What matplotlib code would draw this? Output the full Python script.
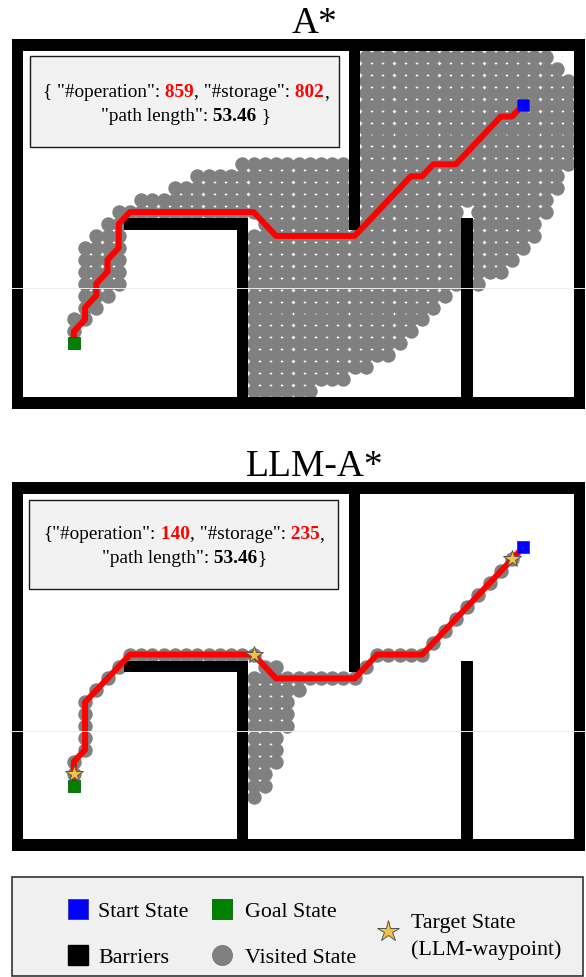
import matplotlib
matplotlib.use('Agg')
import matplotlib.pyplot as plt
from matplotlib.patches import Rectangle

W, H = 586, 978
SERIF = 'Liberation Serif'

# grid world 51 x 31, walls as (x0, x1, y0, y1) inclusive
walls = [(0, 50, 0, 0), (0, 50, 30, 30), (0, 0, 0, 30), (50, 50, 0, 30),
         (10, 20, 15, 15), (20, 20, 0, 14), (30, 30, 15, 29), (40, 40, 0, 15)]
start = (45, 25)
goal = (5, 5)

# A* result: path corners and visited cells per row (y, x_from, x_to)
astar_path = [(45, 25), (44, 24), (43, 24), (39, 20), (37, 20), (36, 19), (35, 19),
              (30, 14), (23, 14), (21, 16), (10, 16), (9, 15), (9, 13), (8, 12),
              (8, 11), (7, 10), (7, 9), (6, 8), (6, 7), (5, 6), (5, 5)]
astar_visited = [(29, 31, 47), (28, 31, 48), (27, 31, 49), (26, 31, 49), (25, 31, 49),
                 (24, 31, 49), (23, 31, 49), (22, 31, 49), (21, 31, 49),
                 (20, 20, 29), (20, 31, 49), (19, 16, 29), (19, 31, 48),
                 (18, 14, 29), (18, 31, 48), (17, 11, 29), (17, 31, 47),
                 (16, 9, 29), (16, 31, 39), (16, 41, 47),
                 (15, 8, 9), (15, 22, 29), (15, 31, 39), (15, 41, 46),
                 (14, 7, 9), (14, 21, 39), (14, 41, 46),
                 (13, 6, 9), (13, 21, 39), (13, 41, 45),
                 (12, 6, 9), (12, 21, 39), (12, 41, 44),
                 (11, 6, 9), (11, 21, 39), (11, 41, 43),
                 (10, 6, 9), (10, 21, 39), (10, 41, 41),
                 (9, 6, 8), (9, 21, 38), (8, 6, 7), (8, 21, 37),
                 (7, 5, 6), (7, 21, 36), (6, 5, 5), (6, 21, 35),
                 (5, 21, 34), (4, 21, 33), (3, 21, 31), (2, 21, 29), (1, 21, 26)]
astar_stats = ['859', '802', '53.46']

# LLM-A* result
llm_path = [(45, 25), (44, 24), (36, 16), (32, 16), (30, 14), (23, 14), (21, 16),
            (10, 16), (6, 12), (6, 8), (5, 7), (5, 5)]
llm_visited = [(24, 44, 44), (23, 43, 43), (22, 42, 42), (21, 41, 41), (20, 40, 40),
               (19, 39, 39), (18, 38, 38), (17, 37, 37),
               (16, 10, 21), (16, 32, 36), (15, 9, 9), (15, 22, 23), (15, 31, 31),
               (14, 8, 8), (14, 21, 30), (13, 7, 7), (13, 21, 25),
               (12, 6, 6), (12, 21, 24), (11, 6, 6), (11, 21, 24),
               (10, 6, 6), (10, 21, 24), (9, 6, 6), (9, 21, 23),
               (8, 6, 6), (8, 21, 23), (7, 5, 5), (7, 21, 23),
               (6, 5, 5), (6, 21, 22), (5, 21, 22), (4, 21, 21)]
llm_targets = [(5, 6), (21, 16), (44, 24)]
llm_stats = ['140', '235', '53.46']

legend_labels = ['Start State', 'Goal State', 'Barriers', 'Visited State',
                 'Target State', '(LLM-waypoint)']

fig = plt.figure(figsize=(W / 100, H / 100), dpi=100)


def draw_map(rect, path, visited, targets=None):
    ax = fig.add_axes(rect)
    xs, ys = [], []
    for y, x0, x1 in visited:
        for x in range(x0, x1 + 1):
            xs.append(x)
            ys.append(y)
    ax.scatter(xs, ys, s=108, color='#808080', linewidths=0, zorder=2)
    for x0, x1, y0, y1 in walls:
        ax.add_patch(Rectangle((x0 - 0.5, y0 - 0.5), x1 - x0 + 1, y1 - y0 + 1,
                               facecolor='black', edgecolor='none', zorder=3))
    px, py = zip(*path)
    ax.plot(px, py, color='red', lw=4.3, solid_joinstyle='round',
            solid_capstyle='round', zorder=4)
    ax.plot(*start, marker='s', ms=8, color='#0000ff', mec='#3030c0', mew=0.6, zorder=5)
    ax.plot(*goal, marker='s', ms=8.6, color='#008000', mec='#006400', mew=0.6, zorder=5)
    if targets:
        tx, ty = zip(*targets)
        ax.plot(tx, ty, ls='none', marker='*', ms=13, color='#f5c242',
                mec='#555555', mew=0.7, zorder=6)
    # faint scan line visible in the source picture
    ax.axhline(9.6, color='#ececec', lw=0.7, zorder=7)
    ax.set_xlim(-0.5, 50.5)
    ax.set_ylim(-0.5, 30.5)
    ax.axis('off')
    return ax


draw_map([12 / W, 1 - 410 / H, 573 / W, 370 / H], astar_path, astar_visited)
draw_map([12 / W, 1 - 852 / H, 573 / W, 369 / H], llm_path, llm_visited, llm_targets)

# overlay in pixel coordinates for titles, boxes and legend
ov = fig.add_axes([0, 0, 1, 1])
ov.set_xlim(0, W)
ov.set_ylim(H, 0)
ov.axis('off')

ov.text(314, 33, 'A*', ha='center', va='baseline', fontsize=27, family=SERIF)
ov.text(315, 476, 'LLM-A*', ha='center', va='baseline', fontsize=27, family=SERIF)

ov.add_patch(Rectangle((30, 57), 309, 91, facecolor='#f2f2f2', edgecolor='#1a1a1a', lw=1))
ov.add_patch(Rectangle((29, 501), 309, 89, facecolor='#f2f2f2', edgecolor='#1a1a1a', lw=1))

renderer = fig.canvas.get_renderer()


def rich_line(xc, yb, parts, size=13.9):
    arts = []
    for s, color, bold in parts:
        arts.append(ov.text(0, yb, s, color=color, fontsize=size, family=SERIF,
                            fontweight='bold' if bold else 'normal',
                            va='baseline', ha='left'))
    widths = [a.get_window_extent(renderer).width for a in arts]
    x = xc - sum(widths) / 2
    for a, w in zip(arts, widths):
        a.set_x(x)
        x += w


rich_line(186, 97, [('{ "#operation":', 'black', False), (' ' + astar_stats[0], 'red', True),
                    (', "#storage":', 'black', False), (' ' + astar_stats[1], 'red', True),
                    (',', 'black', False)])
rich_line(186, 121, [('"path length":', 'black', False), (' ' + astar_stats[2], 'black', True),
                     (' }', 'black', False)])
rich_line(184, 539, [('{"#operation":', 'black', False), (' ' + llm_stats[0], 'red', True),
                     (', "#storage":', 'black', False), (' ' + llm_stats[1], 'red', True),
                     (',', 'black', False)])
rich_line(184, 563, [('"path length":', 'black', False), (' ' + llm_stats[2], 'black', True),
                     ('}', 'black', False)])

# legend
ov.add_patch(Rectangle((12, 878), 571, 99, facecolor='#f0f0f0', edgecolor='#333333', lw=1.2))
ov.plot(78, 910, marker='s', ms=14.4, color='#0000ff', mec='#3030c0', mew=0.6)
ov.plot(221.5, 910, marker='s', ms=14.4, color='#008000', mec='#006400', mew=0.6)
ov.plot(78, 956, marker='s', ms=14.4, color='black')
ov.plot(221.5, 956, marker='o', ms=14.4, color='#808080', mec='#6a6a6a', mew=0.5)
ov.plot(388, 932, marker='*', ms=16, color='#f5c242', mec='#555555', mew=0.7)
lx = [98, 245, 98, 245, 411, 411]
ly = [917, 917, 963, 963, 928, 955]
for t, x, y in zip(legend_labels, lx, ly):
    ov.text(x, y, t, fontsize=15.8, family=SERIF, va='baseline', ha='left')

fig.savefig('out.png', dpi=100, facecolor='white')
